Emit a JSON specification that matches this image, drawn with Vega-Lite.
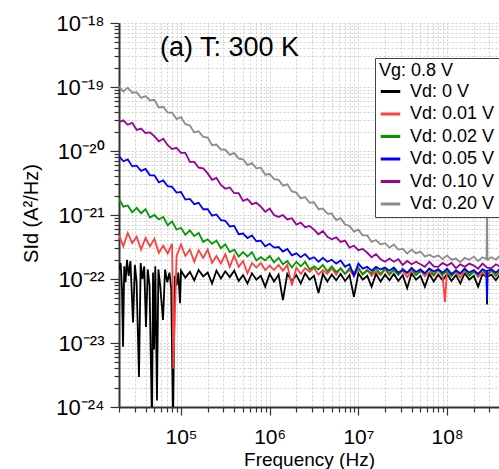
{
"$schema":"https://vega.github.io/schema/vega-lite/v6.json",
"width":380,"height":384,
"autosize":{"type":"none"},
"padding":{"left":119,"top":23,"right":0,"bottom":62},
"config":{"view":{"stroke":null},"font":"Liberation Sans",
 "axis":{"domainColor":"#333","domainWidth":2,"tickColor":"#333","tickWidth":1.2,"grid":true,"gridColor":"#c4c4c4","gridDash":[2,2],"gridWidth":0.8,"labelColor":"#000","titleColor":"#000","titleFontWeight":"normal","labelOverlap":false,"labelFlush":false,"labelBound":false,"tickCount":50}},
"datasets":{
"ann":[{"f":5.8e4,"s":4.07e-19,"t":"(a) T: 300 K"}],
"spec":[
{"c":"0","f":2.00e4,"s":1.41e-22},{"c":"0","f":2.09e4,"s":1.78e-22},{"c":"0","f":2.16e4,"s":7.08e-23},{"c":"0","f":2.22e4,"s":8.71e-24},{"c":"0","f":2.29e4,"s":1.58e-22},{"c":"0","f":2.37e4,"s":8.91e-23},{"c":"0","f":2.46e4,"s":2.00e-22},{"c":"0","f":2.57e4,"s":1.12e-22},{"c":"0","f":2.69e4,"s":1.91e-22},{"c":"0","f":2.88e4,"s":2.09e-23},{"c":"0","f":3.02e4,"s":1.66e-22},{"c":"0","f":3.16e4,"s":8.91e-23},{"c":"0","f":3.36e4,"s":2.95e-24},{"c":"0","f":3.51e4,"s":1.78e-22},{"c":"0","f":3.67e4,"s":1.00e-22},{"c":"0","f":3.85e4,"s":1.58e-22},{"c":"0","f":4.03e4,"s":1.78e-23},{"c":"0","f":4.22e4,"s":1.41e-22},{"c":"0","f":4.42e4,"s":7.94e-23},{"c":"0","f":4.71e4,"s":5.01e-25},{"c":"0","f":4.84e4,"s":1.26e-22},{"c":"0","f":4.97e4,"s":7.94e-24},{"c":"0","f":5.13e4,"s":1.58e-22},{"c":"0","f":5.36e4,"s":1.26e-24},{"c":"0","f":5.56e4,"s":1.41e-22},{"c":"0","f":5.82e4,"s":7.94e-23},{"c":"0","f":6.27e4,"s":2.29e-23},{"c":"0","f":6.61e4,"s":1.41e-22},{"c":"0","f":7.00e4,"s":8.91e-23},{"c":"0","f":7.41e4,"s":1.26e-22},{"c":"0","f":7.76e4,"s":7.08e-23},{"c":"0","f":8.13e4,"s":5.01e-25},{"c":"0","f":8.51e4,"s":1.12e-22},{"c":"0","f":8.91e4,"s":7.94e-23},{"c":"0","f":9.33e4,"s":1.26e-22},{"c":"0","f":9.75e4,"s":4.17e-23},
{"c":"0","f":1.00e5,"s":1.35e-22},{"c":"0","f":1.12e5,"s":1.05e-22},{"c":"0","f":1.26e5,"s":1.29e-22},{"c":"0","f":1.41e5,"s":9.55e-23},{"c":"0","f":1.58e5,"s":1.38e-22},{"c":"0","f":1.78e5,"s":1.10e-22},{"c":"0","f":2.00e5,"s":1.26e-22},{"c":"0","f":2.24e5,"s":8.51e-23},{"c":"0","f":2.51e5,"s":1.35e-22},{"c":"0","f":2.82e5,"s":1.02e-22},{"c":"0","f":3.16e5,"s":1.32e-22},{"c":"0","f":3.55e5,"s":1.07e-22},{"c":"0","f":3.98e5,"s":1.35e-22},{"c":"0","f":4.47e5,"s":9.33e-23},{"c":"0","f":5.01e5,"s":1.15e-22},{"c":"0","f":5.62e5,"s":8.51e-23},{"c":"0","f":6.31e5,"s":1.23e-22},{"c":"0","f":7.08e5,"s":9.77e-23},{"c":"0","f":7.94e5,"s":1.12e-22},{"c":"0","f":8.91e5,"s":7.59e-23},
{"c":"0","f":1.00e6,"s":1.20e-22},{"c":"0","f":1.12e6,"s":9.12e-23},{"c":"0","f":1.26e6,"s":1.17e-22},{"c":"0","f":1.41e6,"s":4.68e-23},{"c":"0","f":1.58e6,"s":1.20e-22},{"c":"0","f":1.78e6,"s":9.33e-23},{"c":"0","f":2.00e6,"s":1.15e-22},{"c":"0","f":2.24e6,"s":8.51e-23},{"c":"0","f":2.51e6,"s":1.23e-22},{"c":"0","f":2.82e6,"s":9.77e-23},{"c":"0","f":3.16e6,"s":1.12e-22},{"c":"0","f":3.55e6,"s":6.03e-23},{"c":"0","f":3.98e6,"s":1.20e-22},{"c":"0","f":4.47e6,"s":9.12e-23},{"c":"0","f":5.01e6,"s":1.17e-22},{"c":"0","f":5.62e6,"s":9.55e-23},{"c":"0","f":6.31e6,"s":1.20e-22},{"c":"0","f":7.08e6,"s":9.33e-23},{"c":"0","f":7.94e6,"s":1.15e-22},{"c":"0","f":8.91e6,"s":5.25e-23},
{"c":"0","f":1.00e7,"s":1.23e-22},{"c":"0","f":1.12e7,"s":9.77e-23},{"c":"0","f":1.26e7,"s":1.12e-22},{"c":"0","f":1.41e7,"s":7.59e-23},{"c":"0","f":1.58e7,"s":1.20e-22},{"c":"0","f":1.78e7,"s":9.12e-23},{"c":"0","f":2.00e7,"s":1.17e-22},{"c":"0","f":2.24e7,"s":9.55e-23},{"c":"0","f":2.51e7,"s":1.20e-22},{"c":"0","f":2.82e7,"s":9.33e-23},{"c":"0","f":3.16e7,"s":1.15e-22},{"c":"0","f":3.55e7,"s":7.24e-23},{"c":"0","f":3.98e7,"s":1.23e-22},{"c":"0","f":4.47e7,"s":9.77e-23},{"c":"0","f":5.01e7,"s":1.12e-22},{"c":"0","f":5.62e7,"s":7.59e-23},{"c":"0","f":6.31e7,"s":1.20e-22},{"c":"0","f":7.08e7,"s":9.12e-23},{"c":"0","f":7.94e7,"s":1.17e-22},{"c":"0","f":8.91e7,"s":9.55e-23},
{"c":"0","f":1.00e8,"s":1.20e-22},{"c":"0","f":1.12e8,"s":9.33e-23},{"c":"0","f":1.26e8,"s":1.15e-22},{"c":"0","f":1.41e8,"s":8.51e-23},{"c":"0","f":1.58e8,"s":1.23e-22},{"c":"0","f":1.78e8,"s":9.77e-23},{"c":"0","f":2.00e8,"s":1.12e-22},{"c":"0","f":2.24e8,"s":7.59e-23},{"c":"0","f":2.51e8,"s":1.20e-22},{"c":"0","f":2.79e8,"s":1.07e-22},{"c":"0","f":2.82e8,"s":3.98e-23},{"c":"0","f":2.85e8,"s":1.10e-22},{"c":"0","f":3.16e8,"s":1.17e-22},{"c":"0","f":3.55e8,"s":9.55e-23},{"c":"0","f":3.98e8,"s":1.20e-22},

{"c":"0.01","f":2.00e4,"s":4.79e-22},{"c":"0.01","f":2.24e4,"s":3.24e-22},{"c":"0.01","f":2.51e4,"s":5.25e-22},{"c":"0.01","f":2.82e4,"s":3.63e-22},{"c":"0.01","f":3.16e4,"s":4.57e-22},{"c":"0.01","f":3.55e4,"s":2.88e-22},{"c":"0.01","f":3.98e4,"s":4.37e-22},{"c":"0.01","f":4.47e4,"s":3.24e-22},{"c":"0.01","f":5.01e4,"s":4.27e-22},{"c":"0.01","f":5.62e4,"s":2.57e-22},{"c":"0.01","f":6.31e4,"s":3.31e-22},{"c":"0.01","f":7.08e4,"s":2.51e-22},{"c":"0.01","f":7.94e4,"s":3.55e-22},{"c":"0.01","f":8.2e4,"s":3.98e-24},{"c":"0.01","f":8.91e4,"s":2.29e-22},
{"c":"0.01","f":1.00e5,"s":3.47e-22},{"c":"0.01","f":1.12e5,"s":2.29e-22},{"c":"0.01","f":1.26e5,"s":2.88e-22},{"c":"0.01","f":1.41e5,"s":1.86e-22},{"c":"0.01","f":1.58e5,"s":2.82e-22},{"c":"0.01","f":1.78e5,"s":2.14e-22},{"c":"0.01","f":2.00e5,"s":2.88e-22},{"c":"0.01","f":2.24e5,"s":1.78e-22},{"c":"0.01","f":2.51e5,"s":2.29e-22},{"c":"0.01","f":2.82e5,"s":1.74e-22},{"c":"0.01","f":3.16e5,"s":2.45e-22},{"c":"0.01","f":3.55e5,"s":1.55e-22},{"c":"0.01","f":3.98e5,"s":2.34e-22},{"c":"0.01","f":4.47e5,"s":1.55e-22},{"c":"0.01","f":5.01e5,"s":1.91e-22},{"c":"0.01","f":5.62e5,"s":1.23e-22},{"c":"0.01","f":6.31e5,"s":1.78e-22},{"c":"0.01","f":7.08e5,"s":1.51e-22},{"c":"0.01","f":7.94e5,"s":1.78e-22},{"c":"0.01","f":8.91e5,"s":1.38e-22},
{"c":"0.01","f":1.00e6,"s":1.62e-22},{"c":"0.01","f":1.12e6,"s":1.38e-22},{"c":"0.01","f":1.26e6,"s":1.66e-22},{"c":"0.01","f":1.41e6,"s":1.35e-22},{"c":"0.01","f":1.58e6,"s":1.66e-22},{"c":"0.01","f":1.78e6,"s":7.94e-23},{"c":"0.01","f":2.00e6,"s":1.51e-22},{"c":"0.01","f":2.24e6,"s":1.20e-22},{"c":"0.01","f":2.51e6,"s":1.48e-22},{"c":"0.01","f":2.82e6,"s":1.29e-22},{"c":"0.01","f":3.16e6,"s":1.48e-22},{"c":"0.01","f":3.55e6,"s":1.17e-22},{"c":"0.01","f":3.98e6,"s":1.38e-22},{"c":"0.01","f":4.47e6,"s":1.20e-22},{"c":"0.01","f":5.01e6,"s":1.48e-22},{"c":"0.01","f":5.62e6,"s":1.17e-22},{"c":"0.01","f":6.31e6,"s":1.48e-22},{"c":"0.01","f":7.08e6,"s":1.20e-22},{"c":"0.01","f":7.94e6,"s":1.38e-22},{"c":"0.01","f":8.91e6,"s":1.12e-22},
{"c":"0.01","f":1.00e7,"s":1.41e-22},{"c":"0.01","f":1.12e7,"s":1.20e-22},{"c":"0.01","f":1.26e7,"s":1.41e-22},{"c":"0.01","f":1.41e7,"s":1.12e-22},{"c":"0.01","f":1.58e7,"s":1.32e-22},{"c":"0.01","f":1.78e7,"s":1.15e-22},{"c":"0.01","f":2.00e7,"s":1.41e-22},{"c":"0.01","f":2.24e7,"s":1.15e-22},{"c":"0.01","f":2.51e7,"s":1.45e-22},{"c":"0.01","f":2.82e7,"s":1.17e-22},{"c":"0.01","f":3.16e7,"s":1.35e-22},{"c":"0.01","f":3.55e7,"s":1.07e-22},{"c":"0.01","f":3.98e7,"s":1.35e-22},{"c":"0.01","f":4.47e7,"s":1.17e-22},{"c":"0.01","f":5.01e7,"s":1.38e-22},{"c":"0.01","f":5.62e7,"s":1.10e-22},{"c":"0.01","f":6.31e7,"s":1.29e-22},{"c":"0.01","f":7.08e7,"s":1.12e-22},{"c":"0.01","f":7.94e7,"s":1.38e-22},{"c":"0.01","f":8.91e7,"s":1.10e-22},{"c":"0.01","f":9.46e7,"s":4.37e-23},
{"c":"0.01","f":1.00e8,"s":1.38e-22},{"c":"0.01","f":1.12e8,"s":1.12e-22},{"c":"0.01","f":1.26e8,"s":1.29e-22},{"c":"0.01","f":1.41e8,"s":1.05e-22},{"c":"0.01","f":1.58e8,"s":1.32e-22},{"c":"0.01","f":1.78e8,"s":1.15e-22},{"c":"0.01","f":2.00e8,"s":1.35e-22},{"c":"0.01","f":2.24e8,"s":1.07e-22},{"c":"0.01","f":2.51e8,"s":1.26e-22},{"c":"0.01","f":2.82e8,"s":1.10e-22},{"c":"0.01","f":3.16e8,"s":1.35e-22},{"c":"0.01","f":3.55e8,"s":1.10e-22},{"c":"0.01","f":3.98e8,"s":1.38e-22},

{"c":"0.02","f":2.00e4,"s":1.78e-21},{"c":"0.02","f":2.24e4,"s":1.35e-21},{"c":"0.02","f":2.51e4,"s":1.41e-21},{"c":"0.02","f":2.82e4,"s":1.10e-21},{"c":"0.02","f":3.16e4,"s":1.29e-21},{"c":"0.02","f":3.55e4,"s":1.07e-21},{"c":"0.02","f":3.98e4,"s":1.23e-21},{"c":"0.02","f":4.47e4,"s":9.12e-22},{"c":"0.02","f":5.01e4,"s":1.00e-21},{"c":"0.02","f":5.62e4,"s":8.51e-22},{"c":"0.02","f":6.31e4,"s":9.33e-22},{"c":"0.02","f":7.08e4,"s":6.92e-22},{"c":"0.02","f":7.94e4,"s":7.94e-22},{"c":"0.02","f":8.91e4,"s":5.89e-22},
{"c":"0.02","f":1.00e5,"s":6.31e-22},{"c":"0.02","f":1.12e5,"s":4.90e-22},{"c":"0.02","f":1.26e5,"s":5.75e-22},{"c":"0.02","f":1.41e5,"s":4.68e-22},{"c":"0.02","f":1.58e5,"s":5.25e-22},{"c":"0.02","f":1.78e5,"s":3.80e-22},{"c":"0.02","f":2.00e5,"s":4.17e-22},{"c":"0.02","f":2.24e5,"s":3.55e-22},{"c":"0.02","f":2.51e5,"s":3.98e-22},{"c":"0.02","f":2.82e5,"s":3.02e-22},{"c":"0.02","f":3.16e5,"s":3.47e-22},{"c":"0.02","f":3.55e5,"s":2.63e-22},{"c":"0.02","f":3.98e5,"s":2.88e-22},{"c":"0.02","f":4.47e5,"s":2.24e-22},{"c":"0.02","f":5.01e5,"s":2.63e-22},{"c":"0.02","f":5.62e5,"s":2.24e-22},{"c":"0.02","f":6.31e5,"s":2.63e-22},{"c":"0.02","f":7.08e5,"s":1.95e-22},{"c":"0.02","f":7.94e5,"s":2.19e-22},{"c":"0.02","f":8.91e5,"s":1.95e-22},
{"c":"0.02","f":1.00e6,"s":2.29e-22},{"c":"0.02","f":1.12e6,"s":1.82e-22},{"c":"0.02","f":1.26e6,"s":2.14e-22},{"c":"0.02","f":1.41e6,"s":1.70e-22},{"c":"0.02","f":1.58e6,"s":1.91e-22},{"c":"0.02","f":1.78e6,"s":1.51e-22},{"c":"0.02","f":2.00e6,"s":1.86e-22},{"c":"0.02","f":2.24e6,"s":1.58e-22},{"c":"0.02","f":2.51e6,"s":1.86e-22},{"c":"0.02","f":2.82e6,"s":1.41e-22},{"c":"0.02","f":3.16e6,"s":1.58e-22},{"c":"0.02","f":3.55e6,"s":1.41e-22},{"c":"0.02","f":3.98e6,"s":1.66e-22},{"c":"0.02","f":4.47e6,"s":1.32e-22},{"c":"0.02","f":5.01e6,"s":1.58e-22},{"c":"0.02","f":5.62e6,"s":1.29e-22},{"c":"0.02","f":6.31e6,"s":1.45e-22},{"c":"0.02","f":7.08e6,"s":1.20e-22},{"c":"0.02","f":7.94e6,"s":1.48e-22},{"c":"0.02","f":8.91e6,"s":1.26e-22},
{"c":"0.02","f":1.00e7,"s":1.51e-22},{"c":"0.02","f":1.12e7,"s":1.17e-22},{"c":"0.02","f":1.26e7,"s":1.35e-22},{"c":"0.02","f":1.41e7,"s":1.23e-22},{"c":"0.02","f":1.58e7,"s":1.48e-22},{"c":"0.02","f":1.78e7,"s":1.20e-22},{"c":"0.02","f":2.00e7,"s":1.48e-22},{"c":"0.02","f":2.24e7,"s":1.20e-22},{"c":"0.02","f":2.51e7,"s":1.38e-22},{"c":"0.02","f":2.82e7,"s":1.15e-22},{"c":"0.02","f":3.16e7,"s":1.45e-22},{"c":"0.02","f":3.55e7,"s":1.23e-22},{"c":"0.02","f":3.98e7,"s":1.48e-22},{"c":"0.02","f":4.47e7,"s":1.15e-22},{"c":"0.02","f":5.01e7,"s":1.32e-22},{"c":"0.02","f":5.62e7,"s":1.20e-22},{"c":"0.02","f":6.31e7,"s":1.45e-22},{"c":"0.02","f":7.08e7,"s":1.17e-22},{"c":"0.02","f":7.94e7,"s":1.45e-22},{"c":"0.02","f":8.91e7,"s":1.17e-22},
{"c":"0.02","f":1.00e8,"s":1.35e-22},{"c":"0.02","f":1.12e8,"s":1.10e-22},{"c":"0.02","f":1.26e8,"s":1.38e-22},{"c":"0.02","f":1.41e8,"s":1.20e-22},{"c":"0.02","f":1.58e8,"s":1.45e-22},{"c":"0.02","f":1.78e8,"s":1.12e-22},{"c":"0.02","f":2.00e8,"s":1.29e-22},{"c":"0.02","f":2.24e8,"s":1.17e-22},{"c":"0.02","f":2.51e8,"s":1.41e-22},{"c":"0.02","f":2.82e8,"s":1.15e-22},{"c":"0.02","f":3.16e8,"s":1.41e-22},{"c":"0.02","f":3.55e8,"s":1.15e-22},{"c":"0.02","f":3.98e8,"s":1.32e-22},

{"c":"0.05","f":2.00e4,"s":8.32e-21},{"c":"0.05","f":2.24e4,"s":6.92e-21},{"c":"0.05","f":2.51e4,"s":7.41e-21},{"c":"0.05","f":2.82e4,"s":5.75e-21},{"c":"0.05","f":3.16e4,"s":5.89e-21},{"c":"0.05","f":3.55e4,"s":4.90e-21},{"c":"0.05","f":3.98e4,"s":5.25e-21},{"c":"0.05","f":4.47e4,"s":4.17e-21},{"c":"0.05","f":5.01e4,"s":4.17e-21},{"c":"0.05","f":5.62e4,"s":3.24e-21},{"c":"0.05","f":6.31e4,"s":3.47e-21},{"c":"0.05","f":7.08e4,"s":2.82e-21},{"c":"0.05","f":7.94e4,"s":2.75e-21},{"c":"0.05","f":8.91e4,"s":2.24e-21},
{"c":"0.05","f":1.00e5,"s":2.29e-21},{"c":"0.05","f":1.12e5,"s":1.74e-21},{"c":"0.05","f":1.26e5,"s":1.78e-21},{"c":"0.05","f":1.41e5,"s":1.48e-21},{"c":"0.05","f":1.58e5,"s":1.55e-21},{"c":"0.05","f":1.78e5,"s":1.23e-21},{"c":"0.05","f":2.00e5,"s":1.23e-21},{"c":"0.05","f":2.24e5,"s":9.77e-22},{"c":"0.05","f":2.51e5,"s":1.02e-21},{"c":"0.05","f":2.82e5,"s":8.32e-22},{"c":"0.05","f":3.16e5,"s":8.13e-22},{"c":"0.05","f":3.55e5,"s":6.61e-22},{"c":"0.05","f":3.98e5,"s":6.76e-22},{"c":"0.05","f":4.47e5,"s":5.01e-22},{"c":"0.05","f":5.01e5,"s":5.13e-22},{"c":"0.05","f":5.62e5,"s":4.37e-22},{"c":"0.05","f":6.31e5,"s":4.79e-22},{"c":"0.05","f":7.08e5,"s":3.89e-22},{"c":"0.05","f":7.94e5,"s":3.98e-22},{"c":"0.05","f":8.91e5,"s":3.24e-22},
{"c":"0.05","f":1.00e6,"s":3.55e-22},{"c":"0.05","f":1.12e6,"s":3.09e-22},{"c":"0.05","f":1.26e6,"s":3.16e-22},{"c":"0.05","f":1.41e6,"s":2.69e-22},{"c":"0.05","f":1.58e6,"s":2.95e-22},{"c":"0.05","f":1.78e6,"s":2.34e-22},{"c":"0.05","f":2.00e6,"s":2.51e-22},{"c":"0.05","f":2.24e6,"s":2.19e-22},{"c":"0.05","f":2.51e6,"s":2.45e-22},{"c":"0.05","f":2.82e6,"s":2.04e-22},{"c":"0.05","f":3.16e6,"s":2.19e-22},{"c":"0.05","f":3.55e6,"s":1.86e-22},{"c":"0.05","f":3.98e6,"s":2.14e-22},{"c":"0.05","f":4.47e6,"s":1.86e-22},{"c":"0.05","f":5.01e6,"s":2.00e-22},{"c":"0.05","f":5.62e6,"s":1.74e-22},{"c":"0.05","f":6.31e6,"s":1.95e-22},{"c":"0.05","f":7.08e6,"s":1.55e-22},{"c":"0.05","f":7.94e6,"s":1.70e-22},{"c":"0.05","f":8.91e6,"s":1.12e-22},
{"c":"0.05","f":1.00e7,"s":1.74e-22},{"c":"0.05","f":1.12e7,"s":1.45e-22},{"c":"0.05","f":1.26e7,"s":1.55e-22},{"c":"0.05","f":1.41e7,"s":1.35e-22},{"c":"0.05","f":1.58e7,"s":1.55e-22},{"c":"0.05","f":1.78e7,"s":1.41e-22},{"c":"0.05","f":2.00e7,"s":1.51e-22},{"c":"0.05","f":2.24e7,"s":1.35e-22},{"c":"0.05","f":2.51e7,"s":1.51e-22},{"c":"0.05","f":2.82e7,"s":1.26e-22},{"c":"0.05","f":3.16e7,"s":1.38e-22},{"c":"0.05","f":3.55e7,"s":1.26e-22},{"c":"0.05","f":3.98e7,"s":1.48e-22},{"c":"0.05","f":4.47e7,"s":1.29e-22},{"c":"0.05","f":5.01e7,"s":1.41e-22},{"c":"0.05","f":5.62e7,"s":1.23e-22},{"c":"0.05","f":6.31e7,"s":1.45e-22},{"c":"0.05","f":7.08e7,"s":1.32e-22},{"c":"0.05","f":7.94e7,"s":1.41e-22},{"c":"0.05","f":8.91e7,"s":1.26e-22},
{"c":"0.05","f":1.00e8,"s":1.45e-22},{"c":"0.05","f":1.12e8,"s":1.20e-22},{"c":"0.05","f":1.26e8,"s":1.35e-22},{"c":"0.05","f":1.41e8,"s":1.23e-22},{"c":"0.05","f":1.58e8,"s":1.45e-22},{"c":"0.05","f":1.78e8,"s":1.26e-22},{"c":"0.05","f":2.00e8,"s":1.38e-22},{"c":"0.05","f":2.24e8,"s":1.20e-22},{"c":"0.05","f":2.51e8,"s":1.41e-22},{"c":"0.05","f":2.79e8,"s":1.32e-22},{"c":"0.05","f":2.82e8,"s":4.68e-23},{"c":"0.05","f":2.85e8,"s":1.35e-22},{"c":"0.05","f":3.16e8,"s":1.41e-22},{"c":"0.05","f":3.55e8,"s":1.26e-22},{"c":"0.05","f":3.98e8,"s":1.45e-22},

{"c":"0.10","f":2.00e4,"s":2.82e-20},{"c":"0.10","f":2.24e4,"s":3.02e-20},{"c":"0.10","f":2.51e4,"s":2.57e-20},{"c":"0.10","f":2.82e4,"s":2.75e-20},{"c":"0.10","f":3.16e4,"s":2.14e-20},{"c":"0.10","f":3.55e4,"s":2.24e-20},{"c":"0.10","f":3.98e4,"s":1.91e-20},{"c":"0.10","f":4.47e4,"s":1.95e-20},{"c":"0.10","f":5.01e4,"s":1.70e-20},{"c":"0.10","f":5.62e4,"s":1.41e-20},{"c":"0.10","f":6.31e4,"s":1.55e-20},{"c":"0.10","f":7.08e4,"s":1.23e-20},{"c":"0.10","f":7.94e4,"s":1.07e-20},{"c":"0.10","f":8.91e4,"s":1.12e-20},
{"c":"0.10","f":1.00e5,"s":9.33e-21},{"c":"0.10","f":1.12e5,"s":9.33e-21},{"c":"0.10","f":1.26e5,"s":6.76e-21},{"c":"0.10","f":1.41e5,"s":6.76e-21},{"c":"0.10","f":1.58e5,"s":5.50e-21},{"c":"0.10","f":1.78e5,"s":5.37e-21},{"c":"0.10","f":2.00e5,"s":4.47e-21},{"c":"0.10","f":2.24e5,"s":3.55e-21},{"c":"0.10","f":2.51e5,"s":3.80e-21},{"c":"0.10","f":2.82e5,"s":2.95e-21},{"c":"0.10","f":3.16e5,"s":2.57e-21},{"c":"0.10","f":3.55e5,"s":2.69e-21},{"c":"0.10","f":3.98e5,"s":2.19e-21},{"c":"0.10","f":4.47e5,"s":2.19e-21},{"c":"0.10","f":5.01e5,"s":1.66e-21},{"c":"0.10","f":5.62e5,"s":1.78e-21},{"c":"0.10","f":6.31e5,"s":1.48e-21},{"c":"0.10","f":7.08e5,"s":1.55e-21},{"c":"0.10","f":7.94e5,"s":1.35e-21},{"c":"0.10","f":8.91e5,"s":1.12e-21},
{"c":"0.10","f":1.00e6,"s":1.26e-21},{"c":"0.10","f":1.12e6,"s":1.00e-21},{"c":"0.10","f":1.26e6,"s":9.33e-22},{"c":"0.10","f":1.41e6,"s":1.00e-21},{"c":"0.10","f":1.58e6,"s":8.51e-22},{"c":"0.10","f":1.78e6,"s":8.91e-22},{"c":"0.10","f":2.00e6,"s":7.08e-22},{"c":"0.10","f":2.24e6,"s":7.59e-22},{"c":"0.10","f":2.51e6,"s":6.46e-22},{"c":"0.10","f":2.82e6,"s":6.76e-22},{"c":"0.10","f":3.16e6,"s":5.89e-22},{"c":"0.10","f":3.55e6,"s":5.01e-22},{"c":"0.10","f":3.98e6,"s":5.62e-22},{"c":"0.10","f":4.47e6,"s":4.57e-22},{"c":"0.10","f":5.01e6,"s":4.17e-22},{"c":"0.10","f":5.62e6,"s":4.47e-22},{"c":"0.10","f":6.31e6,"s":3.80e-22},{"c":"0.10","f":7.08e6,"s":3.98e-22},{"c":"0.10","f":7.94e6,"s":3.09e-22},{"c":"0.10","f":8.91e6,"s":3.31e-22},
{"c":"0.10","f":1.00e7,"s":2.82e-22},{"c":"0.10","f":1.12e7,"s":2.95e-22},{"c":"0.10","f":1.26e7,"s":2.57e-22},{"c":"0.10","f":1.41e7,"s":2.19e-22},{"c":"0.10","f":1.58e7,"s":2.45e-22},{"c":"0.10","f":1.78e7,"s":2.04e-22},{"c":"0.10","f":2.00e7,"s":1.86e-22},{"c":"0.10","f":2.24e7,"s":2.09e-22},{"c":"0.10","f":2.51e7,"s":1.86e-22},{"c":"0.10","f":2.82e7,"s":2.04e-22},{"c":"0.10","f":3.16e7,"s":1.66e-22},{"c":"0.10","f":3.55e7,"s":1.91e-22},{"c":"0.10","f":3.98e7,"s":1.70e-22},{"c":"0.10","f":4.47e7,"s":1.86e-22},{"c":"0.10","f":5.01e7,"s":1.70e-22},{"c":"0.10","f":5.62e7,"s":1.55e-22},{"c":"0.10","f":6.31e7,"s":1.86e-22},{"c":"0.10","f":7.08e7,"s":1.58e-22},{"c":"0.10","f":7.94e7,"s":1.55e-22},{"c":"0.10","f":8.91e7,"s":1.78e-22},
{"c":"0.10","f":1.00e8,"s":1.62e-22},{"c":"0.10","f":1.12e8,"s":1.78e-22},{"c":"0.10","f":1.26e8,"s":1.48e-22},{"c":"0.10","f":1.41e8,"s":1.70e-22},{"c":"0.10","f":1.58e8,"s":1.55e-22},{"c":"0.10","f":1.78e8,"s":1.74e-22},{"c":"0.10","f":2.00e8,"s":1.62e-22},{"c":"0.10","f":2.24e8,"s":1.45e-22},{"c":"0.10","f":2.51e8,"s":1.74e-22},{"c":"0.10","f":2.82e8,"s":1.51e-22},{"c":"0.10","f":3.16e8,"s":1.48e-22},{"c":"0.10","f":3.55e8,"s":1.70e-22},{"c":"0.10","f":3.98e8,"s":1.55e-22},

{"c":"0.20","f":2.00e4,"s":1.00e-19},{"c":"0.20","f":2.24e4,"s":8.51e-20},{"c":"0.20","f":2.51e4,"s":9.77e-20},{"c":"0.20","f":2.82e4,"s":8.13e-20},{"c":"0.20","f":3.16e4,"s":8.32e-20},{"c":"0.20","f":3.55e4,"s":6.76e-20},{"c":"0.20","f":3.98e4,"s":7.24e-20},{"c":"0.20","f":4.47e4,"s":6.17e-20},{"c":"0.20","f":5.01e4,"s":6.31e-20},{"c":"0.20","f":5.62e4,"s":4.79e-20},{"c":"0.20","f":6.31e4,"s":4.90e-20},{"c":"0.20","f":7.08e4,"s":3.98e-20},{"c":"0.20","f":7.94e4,"s":3.98e-20},{"c":"0.20","f":8.91e4,"s":3.16e-20},
{"c":"0.20","f":1.00e5,"s":3.39e-20},{"c":"0.20","f":1.12e5,"s":2.63e-20},{"c":"0.20","f":1.26e5,"s":2.51e-20},{"c":"0.20","f":1.41e5,"s":1.95e-20},{"c":"0.20","f":1.58e5,"s":2.04e-20},{"c":"0.20","f":1.78e5,"s":1.66e-20},{"c":"0.20","f":2.00e5,"s":1.62e-20},{"c":"0.20","f":2.24e5,"s":1.23e-20},{"c":"0.20","f":2.51e5,"s":1.26e-20},{"c":"0.20","f":2.82e5,"s":1.05e-20},{"c":"0.20","f":3.16e5,"s":1.05e-20},{"c":"0.20","f":3.55e5,"s":8.71e-21},{"c":"0.20","f":3.98e5,"s":9.33e-21},{"c":"0.20","f":4.47e5,"s":7.59e-21},{"c":"0.20","f":5.01e5,"s":7.41e-21},{"c":"0.20","f":5.62e5,"s":6.03e-21},{"c":"0.20","f":6.31e5,"s":6.46e-21},{"c":"0.20","f":7.08e5,"s":5.37e-21},{"c":"0.20","f":7.94e5,"s":5.50e-21},{"c":"0.20","f":8.91e5,"s":4.27e-21},
{"c":"0.20","f":1.00e6,"s":4.37e-21},{"c":"0.20","f":1.12e6,"s":3.63e-21},{"c":"0.20","f":1.26e6,"s":3.55e-21},{"c":"0.20","f":1.41e6,"s":2.88e-21},{"c":"0.20","f":1.58e6,"s":3.02e-21},{"c":"0.20","f":1.78e6,"s":2.34e-21},{"c":"0.20","f":2.00e6,"s":2.24e-21},{"c":"0.20","f":2.24e6,"s":1.82e-21},{"c":"0.20","f":2.51e6,"s":1.91e-21},{"c":"0.20","f":2.82e6,"s":1.55e-21},{"c":"0.20","f":3.16e6,"s":1.58e-21},{"c":"0.20","f":3.55e6,"s":1.23e-21},{"c":"0.20","f":3.98e6,"s":1.26e-21},{"c":"0.20","f":4.47e6,"s":1.05e-21},{"c":"0.20","f":5.01e6,"s":1.05e-21},{"c":"0.20","f":5.62e6,"s":8.32e-22},{"c":"0.20","f":6.31e6,"s":8.91e-22},{"c":"0.20","f":7.08e6,"s":7.08e-22},{"c":"0.20","f":7.94e6,"s":6.76e-22},{"c":"0.20","f":8.91e6,"s":5.50e-22},
{"c":"0.20","f":1.00e7,"s":5.89e-22},{"c":"0.20","f":1.12e7,"s":4.79e-22},{"c":"0.20","f":1.26e7,"s":4.79e-22},{"c":"0.20","f":1.41e7,"s":3.80e-22},{"c":"0.20","f":1.58e7,"s":4.07e-22},{"c":"0.20","f":1.78e7,"s":3.47e-22},{"c":"0.20","f":2.00e7,"s":3.63e-22},{"c":"0.20","f":2.24e7,"s":3.09e-22},{"c":"0.20","f":2.51e7,"s":3.47e-22},{"c":"0.20","f":2.82e7,"s":2.88e-22},{"c":"0.20","f":3.16e7,"s":2.95e-22},{"c":"0.20","f":3.55e7,"s":2.51e-22},{"c":"0.20","f":3.98e7,"s":2.88e-22},{"c":"0.20","f":4.47e7,"s":2.51e-22},{"c":"0.20","f":5.01e7,"s":2.69e-22},{"c":"0.20","f":5.62e7,"s":2.24e-22},{"c":"0.20","f":6.31e7,"s":2.40e-22},{"c":"0.20","f":7.08e7,"s":2.19e-22},{"c":"0.20","f":7.94e7,"s":2.34e-22},{"c":"0.20","f":8.91e7,"s":2.04e-22},
{"c":"0.20","f":1.00e8,"s":2.34e-22},{"c":"0.20","f":1.12e8,"s":2.00e-22},{"c":"0.20","f":1.26e8,"s":2.09e-22},{"c":"0.20","f":1.41e8,"s":1.82e-22},{"c":"0.20","f":1.58e8,"s":2.14e-22},{"c":"0.20","f":1.78e8,"s":2.00e-22},{"c":"0.20","f":2.00e8,"s":2.24e-22},{"c":"0.20","f":2.24e8,"s":1.91e-22},{"c":"0.20","f":2.51e8,"s":2.19e-22},{"c":"0.20","f":2.79e8,"s":2.04e-22},{"c":"0.20","f":2.82e8,"s":1.35e-21},{"c":"0.20","f":2.85e8,"s":2.00e-22},{"c":"0.20","f":3.16e8,"s":2.19e-22},{"c":"0.20","f":3.55e8,"s":2.00e-22},{"c":"0.20","f":3.98e8,"s":2.34e-22}
]},
"layer":[
{"data":{"name":"spec"},
 "mark":{"type":"line","strokeWidth":1.8,"clip":true},
 "encoding":{
  "x":{"field":"f","type":"quantitative","scale":{"type":"log","domain":[2e4,3.85e8],"nice":false},
   "axis":{"title":"Frequency (Hz)","titleFontSize":19,"titleBaseline":"alphabetic","titleY":58,"tickCount":50,
    "labelFontSize":21,"labelPadding":11,"labelOverlap":false,"labelBound":false,"labelFlush":false,
    "tickSize":{"condition":{"test":"abs(log(datum.value)/LN10 - round(log(datum.value)/LN10)) < 0.01","value":8},"value":5},
    "labelExpr":"abs(log(datum.value)/LN10 - round(log(datum.value)/LN10)) < 0.01 ? '10' + ['⁰','¹','²','³','⁴','⁵','⁶','⁷','⁸','⁹'][round(log(datum.value)/LN10)] : ''"}},
  "y":{"field":"s","type":"quantitative","scale":{"type":"log","domain":[1e-24,1e-18],"nice":false},
   "axis":{"title":"SId (A²/Hz)","titleFontSize":20,"titleX":-88,"titleY":190,"titleAlign":"center","titleBaseline":"middle","tickCount":60,
    "labelFontSize":22,"labelPadding":6,"labelOverlap":false,
    "tickSize":{"condition":{"test":"abs(log(datum.value)/LN10 - round(log(datum.value)/LN10)) < 0.01","value":9},"value":5},
    "labelExpr":"abs(log(datum.value)/LN10 - round(log(datum.value)/LN10)) < 0.01 ? '10⁻' + ['⁰','¹','²','³','⁴','⁵','⁶','⁷','⁸','⁹'][floor(round(-log(datum.value)/LN10)/10)] + ['⁰','¹','²','³','⁴','⁵','⁶','⁷','⁸','⁹'][round(-log(datum.value)/LN10) % 10] : ''"}},
  "color":{"field":"c","type":"nominal",
   "scale":{"domain":["0","0.01","0.02","0.05","0.10","0.20"],"range":["#000000","#ff4040","#009a00","#0000ff","#990099","#8c8c8c"]},
   "legend":{"title":"Vg: 0.8 V","orient":"none","legendX":256,"legendY":35,"labelExpr":"'Vd: ' + datum.label + ' V'",
    "labelFontSize":18,"titleFontSize":18,"titleFontWeight":"normal","titleColor":"#000","labelColor":"#000",
    "symbolType":"stroke","symbolStrokeWidth":3,"symbolSize":380,"strokeColor":"#444","fillColor":"#ffffff",
    "padding":4,"rowPadding":1.5,"titlePadding":0,"labelLimit":300,"labelOffset":8}}
 }},
{"data":{"name":"ann"},
 "mark":{"type":"text","align":"left","baseline":"middle","fontSize":27,"font":"Liberation Sans","color":"#000"},
 "encoding":{"x":{"field":"f","type":"quantitative"},"y":{"field":"s","type":"quantitative"},"text":{"field":"t"}}}
]
}
